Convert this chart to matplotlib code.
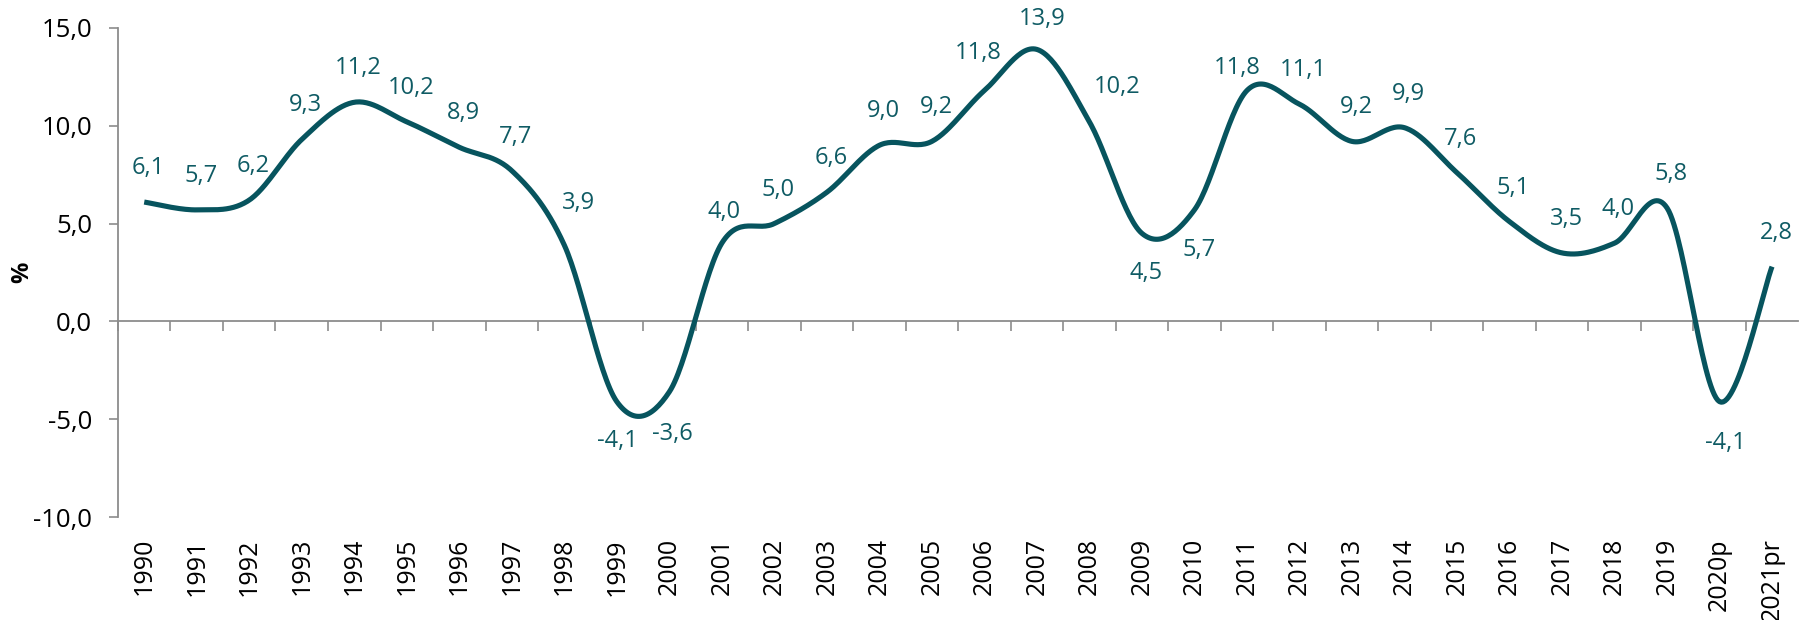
import matplotlib
import numpy as np

matplotlib.use("Agg")
import matplotlib.pyplot as plt
from matplotlib.ticker import FixedLocator, FuncFormatter, NullFormatter

plt.rcParams["font.family"] = ["Open Sans", "DejaVu Sans"]

years = ["1990", "1991", "1992", "1993", "1994", "1995", "1996", "1997", "1998",
         "1999", "2000", "2001", "2002", "2003", "2004", "2005", "2006", "2007",
         "2008", "2009", "2010", "2011", "2012", "2013", "2014", "2015", "2016",
         "2017", "2018", "2019", "2020p", "2021pr"]
growth = [6.1, 5.7, 6.2, 9.3, 11.2, 10.2, 8.9, 7.7, 3.9, -4.1, -3.6, 4.0, 5.0,
          6.6, 9.0, 9.2, 11.8, 13.9, 10.2, 4.5, 5.7, 11.8, 11.1, 9.2, 9.9, 7.6,
          5.1, 3.5, 4.0, 5.8, -4.1, 2.8]

# label nudges (pixels, x right / y up); default sits just above the point
label_nudge = {8: (14, 42), 9: (1, -39), 10: (3, -42), 11: (2, 31),
               16: (-6, 38), 17: (5, 30), 18: (28, 35), 19: (4, -40),
               20: (5, -40), 21: (-10, 23), 30: (6, -41)}

LINE = "#07545e"
LABEL = "#0f5b64"
AXIS = "#8c8c8c"


def smooth(x, y, n=30):
    """Catmull-Rom curve through every point (same shape as a 'smoothed line' chart)."""
    x = np.asarray(x, float)
    y = np.asarray(y, float)
    px = np.concatenate([[x[0]], x, [x[-1]]])
    py = np.concatenate([[y[0]], y, [y[-1]]])
    xs, ys = [], []
    t = np.linspace(0, 1, n, endpoint=False)
    for i in range(1, len(px) - 2):
        p0x, p1x, p2x, p3x = px[i - 1:i + 3]
        p0y, p1y, p2y, p3y = py[i - 1:i + 3]
        # bezier control points
        c1x, c1y = p1x + (p2x - p0x) / 6, p1y + (p2y - p0y) / 6
        c2x, c2y = p2x - (p3x - p1x) / 6, p2y - (p3y - p1y) / 6
        b0, b1, b2, b3 = (1 - t) ** 3, 3 * t * (1 - t) ** 2, 3 * t ** 2 * (1 - t), t ** 3
        xs.append(b0 * p1x + b1 * c1x + b2 * c2x + b3 * p2x)
        ys.append(b0 * p1y + b1 * c1y + b2 * c2y + b3 * p2y)
    xs.append([x[-1]])
    ys.append([y[-1]])
    return np.concatenate(xs), np.concatenate(ys)


fig = plt.figure(figsize=(18.01, 6.20), dpi=100)
ax = fig.add_axes([0.0655, 0.166, 0.933, 0.789])

idx = np.arange(len(years))
sx, sy = smooth(idx, growth)
ax.plot(sx, sy, color=LINE, lw=3.7, solid_capstyle="butt", zorder=3)

for i, v in enumerate(growth):
    dx, dy = label_nudge.get(i, (4, 34))
    ax.annotate(f"{v:.1f}".replace(".", ","), xy=(i, v), xytext=(dx, dy),
                textcoords="offset pixels", ha="center", va="center",
                fontsize=17, color=LABEL, zorder=4)

ax.set_xlim(-0.5, len(years) - 0.5)
ax.set_ylim(-10, 15)
ax.set_yticks([-10, -5, 0, 5, 10, 15])
ax.yaxis.set_major_formatter(FuncFormatter(lambda v, _: f"{v:.1f}".replace(".", ",")))
ax.tick_params(axis="y", length=6.5, width=1.2, color=AXIS, pad=12, labelsize=18.5)

# category axis runs along zero, ticks between categories
ax.spines["bottom"].set_position(("data", 0))
ax.xaxis.set_major_locator(FixedLocator(idx - 0.5))
ax.xaxis.set_major_formatter(NullFormatter())
ax.tick_params(axis="x", length=7, width=1.2, color=AXIS, direction="out")
for s in ("top", "right"):
    ax.spines[s].set_visible(False)
for s in ("left", "bottom"):
    ax.spines[s].set_color(AXIS)
    ax.spines[s].set_linewidth(1.3)

for i, yr in enumerate(years):
    ax.annotate(yr, xy=(i, 0), xycoords=("data", "axes fraction"), xytext=(0, -21),
                textcoords="offset pixels", rotation=90, ha="center", va="top",
                fontsize=18, color="black")

fig.text(22 / 1801, 1 - 272 / 620, "%", rotation=90, ha="center", va="center",
         fontsize=17, fontweight="bold")

fig.savefig("out.png", dpi=100)
